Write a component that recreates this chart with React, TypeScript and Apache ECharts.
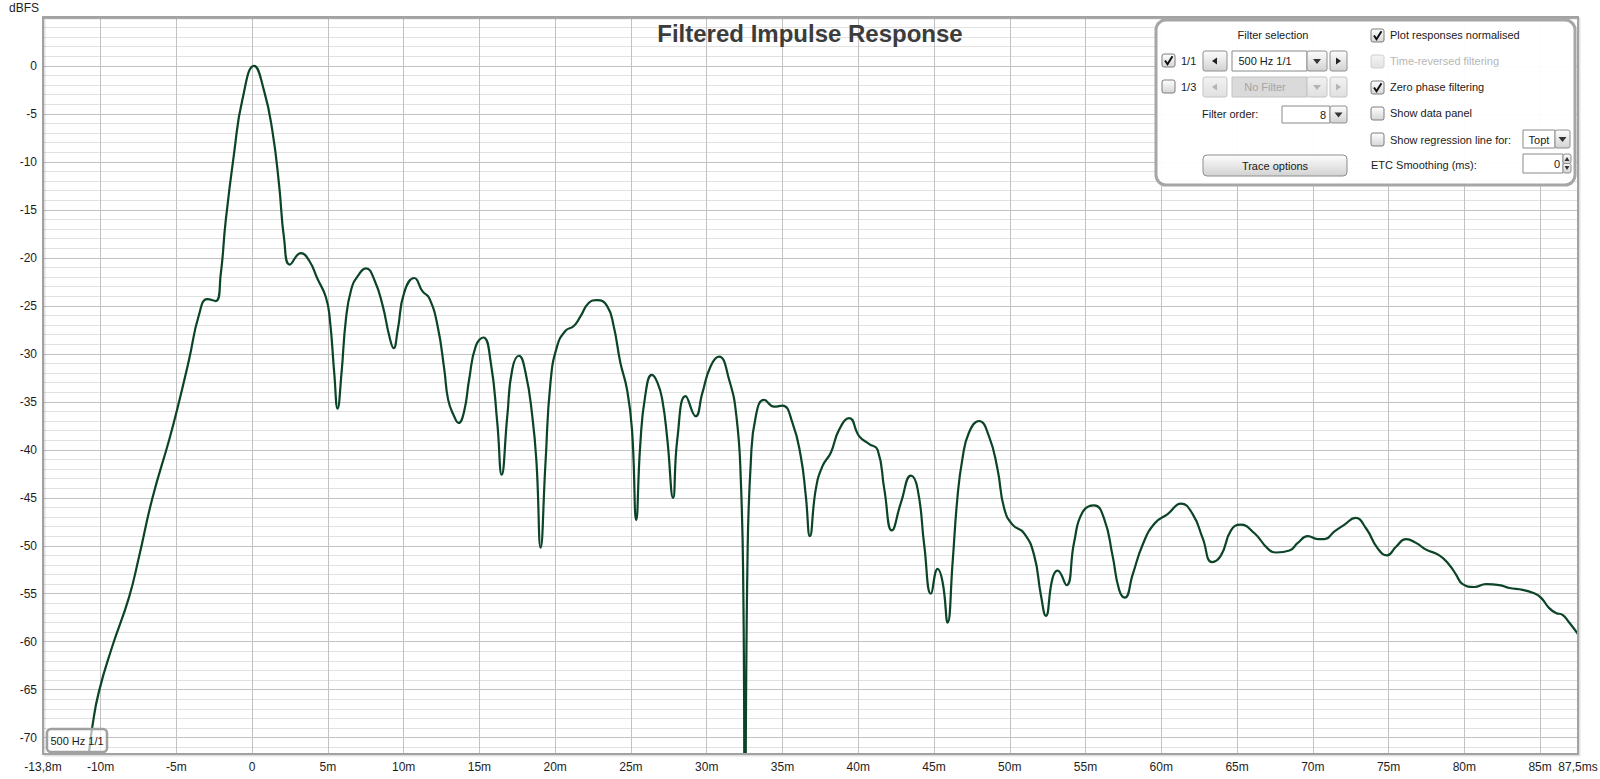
import React, { useEffect, useRef } from "react";
import * as echarts from "echarts";

// ---- data ----
const X_MIN = -13.8;
const X_MAX = 87.5;
const Y_MIN = -71.7;
const Y_MAX = 5.1;

const timeMs = [
  -11.2, -10.77, -10.55, -10.11, -9.23, -8.13, -7.47, -6.59, -5.48, -4.93,
  -4.16, -3.5, -2.95, -2.4, -2.07, -1.74, -1.19, -0.64, 0.13, 0.79,
  1.34, 1.78, 2.11, 2.49, 3.22, 3.77, 4.32, 4.87, 5.13, 5.42,
  5.64, 5.9, 6.19, 6.54, 6.97, 7.52, 8.07, 8.62, 9.06, 9.34,
  9.61, 10.04, 10.7, 11.25, 11.69, 12.24, 12.68, 12.94, 13.33, 13.62,
  13.99, 14.32, 14.76, 15.26, 15.75, 16.18, 16.47, 16.84, 17.17, 17.61,
  18.05, 18.49, 18.77, 19.04, 19.36, 19.69, 20.13, 20.68, 21.23, 21.67,
  22.21, 22.76, 23.42, 23.86, 24.3, 24.74, 25.07, 25.35, 25.61, 25.94,
  26.38, 26.75, 27.07, 27.4, 27.78, 28.06, 28.61, 29.27, 29.71, 30.26,
  30.81, 31.48, 31.96, 32.25, 32.42, 32.52, 32.69, 32.91, 33.24, 33.79,
  34.45, 35.0, 35.66, 36.21, 36.54, 36.81, 37.2, 37.64, 38.19, 38.74,
  39.41, 40.07, 40.73, 41.28, 41.72, 42.22, 42.82, 43.48, 43.92, 44.36,
  44.8, 45.24, 45.57, 45.9, 46.23, 46.54, 46.87, 47.31, 47.97, 48.63,
  49.19, 49.63, 50.18, 50.95, 51.61, 52.05, 52.38, 52.82, 53.15, 53.74,
  54.25, 54.8, 55.57, 56.23, 56.78, 57.22, 57.6, 58.11, 58.77, 59.54,
  60.42, 61.3, 62.07, 62.73, 63.35, 63.94, 64.6, 65.22, 66.15, 67.03,
  67.58, 68.46, 69.01, 69.67, 70.33, 70.77, 71.43, 72.09, 72.81, 73.52,
  74.29, 74.9, 75.49, 76.15, 76.81, 77.47, 78.35, 79.01, 79.45, 79.89,
  80.66, 81.43, 82.31, 82.97, 83.85, 84.51, 85.05, 85.6, 86.04, 86.48,
  86.92, 87.5,
];

const levelDb = [
  -77, -71.6, -68.9, -65.2, -60.5, -55.4, -51.2, -45.1, -39.0, -35.7,
  -30.6, -25.9, -24.3, -24.5, -21.7, -16.1, -9.1, -3.5, 0, -2.6,
  -6.8, -12.4, -18.0, -20.7, -19.5, -20.3, -22.2, -24.1, -26.4, -32.0,
  -35.7, -32.0, -26.4, -23.3, -21.9, -21.1, -22.3, -25.0, -28.2, -29.4,
  -27.5, -23.6, -22.1, -23.5, -24.2, -27.1, -31.6, -34.8, -36.5, -37.2,
  -36.0, -32.7, -29.2, -28.3, -30.9, -37.2, -42.6, -36.5, -31.6, -30.2,
  -32.0, -36.5, -41.4, -50.2, -41.4, -33.0, -29.2, -27.6, -27.1, -26.1,
  -24.7, -24.4, -25.0, -27.1, -30.9, -33.7, -37.9, -47.3, -39.6, -34.4,
  -32.2, -33.0, -34.8, -38.9, -45.0, -38.9, -34.4, -36.5, -34.1, -31.3,
  -30.3, -32.7, -36.5, -43.1, -55.2, -80, -51.7, -41.3, -36.5, -34.8,
  -35.5, -35.4, -37.2, -40.7, -44.8, -49.0, -44.1, -41.7, -40.3, -37.9,
  -36.7, -38.6, -39.4, -40.0, -44.1, -48.4, -45.5, -42.7, -44.1, -50.0,
  -55.0, -52.4, -53.8, -58.0, -51.7, -45.1, -41.0, -38.2, -37.0, -38.6,
  -42.0, -46.1, -47.8, -48.7, -51.0, -55.1, -57.3, -53.4, -52.6, -54.1,
  -49.6, -46.5, -45.8, -47.2, -51.0, -54.6, -55.4, -53.0, -49.9, -47.7,
  -46.7, -45.6, -46.7, -49.2, -51.7, -51.0, -48.4, -47.8, -48.7, -50.3,
  -50.7, -50.5, -49.7, -49.0, -49.3, -49.3, -48.5, -47.8, -47.1, -48.2,
  -50.3, -51.0, -50.1, -49.3, -49.7, -50.4, -51.0, -52.0, -53.0, -54.0,
  -54.3, -54.0, -54.1, -54.4, -54.6, -54.9, -55.4, -56.5, -57.0, -57.2,
  -58.0, -59.2,
];

const TITLE = "Filtered Impulse Response";
const Y_UNIT = "dBFS";
const TRACE_NAME = "500 Hz 1/1";

const FONT = '"Liberation Sans", Arial, sans-serif';

function fmtX(v: number): string {
  if (Math.abs(v) < 1e-9) return "0";
  const s = String(Math.round(v * 10) / 10).replace(".", ",");
  if (Math.abs(v - X_MAX) < 1e-6) return s + "ms";
  return s + "m";
}

function fmtY(v: number): string {
  if (v > 0.01) return "";
  if (Math.abs(v - Math.round(v)) > 1e-6) return "";
  if (Math.round(v) % 5 !== 0) return "";
  return String(Math.round(v));
}

const grad = (a: string, b: string) =>
  new echarts.graphic.LinearGradient(0, 0, 0, 1, [
    { offset: 0, color: a },
    { offset: 1, color: b },
  ]);

function txt(
  text: string,
  x: number,
  y: number,
  align: string = "left",
  fill: string = "#1a1a1a",
  font: string = `11px ${FONT}`
) {
  return {
    type: "text",
    style: {
      text,
      x,
      y,
      font,
      fill,
      align,
      verticalAlign: "middle",
      textAlign: align,
      textVerticalAlign: "middle",
    },
  };
}

function checkbox(x: number, y: number, checked: boolean, disabled = false) {
  const els: any[] = [
    {
      type: "rect",
      shape: { x, y, width: 13, height: 13, r: 2 },
      style: {
        fill: disabled ? grad("#f4f4f4", "#e2e2e2") : grad("#ffffff", "#d6d6d6"),
        stroke: disabled ? "#cfcfcf" : "#7c7c7c",
        lineWidth: 1,
      },
    },
  ];
  if (checked) {
    els.push({
      type: "polyline",
      shape: {
        points: [
          [x + 3, y + 6.5],
          [x + 5.5, y + 10.2],
          [x + 10.5, y + 2.2],
        ],
      },
      style: { stroke: "#111", lineWidth: 2, fill: null },
    });
  }
  return els;
}

function button(x: number, y: number, w: number, h: number, disabled = false, r = 2) {
  return {
    type: "rect",
    shape: { x, y, width: w, height: h, r },
    style: {
      fill: disabled ? grad("#f2f2f2", "#e0e0e0") : grad("#fdfdfd", "#d2d2d2"),
      stroke: disabled ? "#c4c4c4" : "#8e8e8e",
      lineWidth: 1,
    },
  };
}

function field(x: number, y: number, w: number, h: number, fill = "#ffffff", stroke = "#8a8a8a") {
  return {
    type: "rect",
    shape: { x, y, width: w, height: h },
    style: { fill, stroke, lineWidth: 1 },
  };
}

function tri(points: number[][], fill = "#222") {
  return { type: "polygon", shape: { points }, style: { fill } };
}

function buildPanel() {
  const els: any[] = [];
  els.push({
    type: "rect",
    shape: { x: 1156, y: 20, width: 419, height: 165, r: 10 },
    style: { fill: "rgba(255,255,255,0.94)", stroke: "#a6a6a6", lineWidth: 3 },
  });
  // left column
  els.push(txt("Filter selection", 1273, 35, "center"));
  els.push(...checkbox(1162, 54, true));
  els.push(txt("1/1", 1181, 61));
  els.push(button(1203, 51, 24, 20));
  els.push(tri([[1212, 61], [1217, 57.5], [1217, 64.5]]));
  els.push(field(1232, 51, 75, 20));
  els.push(txt("500 Hz 1/1", 1265, 61, "center"));
  els.push(button(1307, 51, 20, 20));
  els.push(tri([[1313, 59], [1321, 59], [1317, 64]], "#333"));
  els.push(button(1330, 51, 17, 20));
  els.push(tri([[1341, 61], [1336, 57.5], [1336, 64.5]]));

  els.push(...checkbox(1162, 80, false));
  els.push(txt("1/3", 1181, 87));
  els.push(button(1203, 77, 24, 20, true));
  els.push(tri([[1212, 87], [1217, 83.5], [1217, 90.5]], "#b4b4b4"));
  els.push(field(1232, 77, 75, 20, "#dadada", "#c2c2c2"));
  els.push(txt("No Filter", 1265, 87, "center", "#a4a4a4"));
  els.push(button(1307, 77, 20, 20, true));
  els.push(tri([[1313, 85], [1321, 85], [1317, 90]], "#b4b4b4"));
  els.push(button(1330, 77, 17, 20, true));
  els.push(tri([[1341, 87], [1336, 83.5], [1336, 90.5]], "#b4b4b4"));

  els.push(txt("Filter order:", 1202, 114));
  els.push(field(1282, 106, 48, 17));
  els.push(txt("8", 1326, 114.5, "right"));
  els.push(button(1330, 106, 17, 17));
  els.push(tri([[1334.5, 112.5], [1342.5, 112.5], [1338.5, 117.5]], "#333"));

  els.push(button(1203, 155, 144, 21, false, 4));
  els.push(txt("Trace options", 1275, 165.5, "center"));

  // right column
  els.push(...checkbox(1371, 29, true));
  els.push(txt("Plot responses normalised", 1390, 35));
  els.push(...checkbox(1371, 55, false, true));
  els.push(txt("Time-reversed filtering", 1390, 61, "left", "#b6b6b6"));
  els.push(...checkbox(1371, 81, true));
  els.push(txt("Zero phase filtering", 1390, 87));
  els.push(...checkbox(1371, 107, false));
  els.push(txt("Show data panel", 1390, 113));
  els.push(...checkbox(1371, 133, false));
  els.push(txt("Show regression line for:", 1390, 140));
  els.push(field(1523, 130, 32, 18));
  els.push(txt("Topt", 1539, 139.5, "center"));
  els.push(button(1555, 130, 15, 18));
  els.push(tri([[1558.5, 137], [1566.5, 137], [1562.5, 142]], "#333"));

  els.push(txt("ETC Smoothing (ms):", 1371, 165));
  els.push(field(1523, 154, 40, 19));
  els.push(txt("0", 1560, 164, "right"));
  els.push(button(1563, 154, 8, 9.5));
  els.push(button(1563, 163.5, 8, 9.5));
  els.push(tri([[1564.5, 161], [1569.5, 161], [1567, 157]], "#333"));
  els.push(tri([[1564.5, 166], [1569.5, 166], [1567, 170]], "#333"));

  // every child above grid lines and the curve
  return els.map((e, i) => ({ ...e, z: 100 + i, silent: true }));
}

export default function App() {
  const ref = useRef<HTMLDivElement>(null);

  useEffect(() => {
    if (!ref.current) return;
    const chart = echarts.init(ref.current, undefined, { renderer: "svg" });
    const data = timeMs.map((t, i) => [t, levelDb[i]]);

    const gridLeft = 43;
    const gridTop = 17;
    const gridW = 1535;
    const gridH = 737;

    chart.setOption({
      animation: false,
      backgroundColor: "#ffffff",
      textStyle: { fontFamily: FONT },
      grid: {
        left: gridLeft,
        top: gridTop,
        width: gridW,
        height: gridH,
        containLabel: false,
        outerBoundsMode: "none",
        show: false,
      },
      xAxis: {
        type: "value",
        min: X_MIN,
        max: X_MAX,
        splitNumber: 20,
        axisLine: { show: false },
        axisTick: { show: false },
        axisLabel: {
          show: true,
          margin: 7,
          color: "#1e1e1e",
          fontSize: 12,
          fontFamily: FONT,
          formatter: (v: number) => fmtX(v),
          showMinLabel: true,
          showMaxLabel: true,
          hideOverlap: false,
        },
        splitLine: {
          show: true,
          showMinLine: false,
          showMaxLine: false,
          lineStyle: { color: "#c2c2c2", width: 1 },
        },
        z: 1,
      },
      yAxis: [
        {
          type: "value",
          min: Y_MIN,
          max: Y_MAX,
          splitNumber: 15,
          position: "left",
          axisLine: { show: false },
          axisTick: { show: false },
          axisLabel: {
            show: true,
            margin: 6,
            color: "#1e1e1e",
            fontSize: 12,
            fontFamily: FONT,
            formatter: (v: number) => fmtY(v),
            showMinLabel: true,
            showMaxLabel: true,
          },
          splitLine: {
            show: true,
            showMinLine: false,
            showMaxLine: false,
            lineStyle: { color: "#c2c2c2", width: 1 },
          },
          z: 1,
        },
        {
          type: "value",
          min: Y_MIN,
          max: Y_MAX,
          splitNumber: 77,
          position: "left",
          axisLine: { show: false },
          axisTick: { show: false },
          axisLabel: { show: false },
          splitLine: {
            show: true,
            showMinLine: false,
            showMaxLine: false,
            lineStyle: { color: "#e1e1e1", width: 1 },
          },
          z: 0,
        },
      ],
      series: [
        {
          type: "line",
          name: TRACE_NAME,
          data,
          xAxisIndex: 0,
          yAxisIndex: 0,
          showSymbol: false,
          symbol: "none",
          smooth: 0.5,
          clip: true,
          lineStyle: { color: "#0b4427", width: 2.2 },
          z: 5,
        },
      ],
      graphic: [
        // plot frame with soft shadow
        {
          type: "rect",
          z: 60,
          silent: true,
          shape: { x: gridLeft + 1.5, y: gridTop + 1.5, width: gridW, height: gridH },
          style: { fill: null, stroke: "rgba(0,0,0,0.12)", lineWidth: 2 },
        },
        {
          type: "rect",
          z: 61,
          silent: true,
          shape: { x: gridLeft, y: gridTop, width: gridW, height: gridH },
          style: { fill: null, stroke: "#a2a2a2", lineWidth: 2 },
        },
        {
          ...txt(Y_UNIT, 24, 8, "center", "#1e1e1e", `12px ${FONT}`),
          z: 62,
        },
        {
          ...txt(TITLE, 810, 33, "center", "#3c3c3c", `bold 24px ${FONT}`),
          z: 62,
        },
        // trace tag bottom-left
        {
          type: "rect",
          z: 70,
          silent: true,
          shape: { x: 47, y: 729, width: 60, height: 23, r: 4 },
          style: { fill: "rgba(255,255,255,0.65)", stroke: "#a0a0a0", lineWidth: 2.5 },
        },
        { ...txt(TRACE_NAME, 77, 741, "center", "#1a1a1a", `11px ${FONT}`), z: 71 },
        ...buildPanel(),
      ],
    });

    return () => chart.dispose();
  }, []);

  return (
    <div
      ref={ref}
      style={{ position: "fixed", left: 0, top: 0, width: 1600, height: 779 }}
    />
  );
}
